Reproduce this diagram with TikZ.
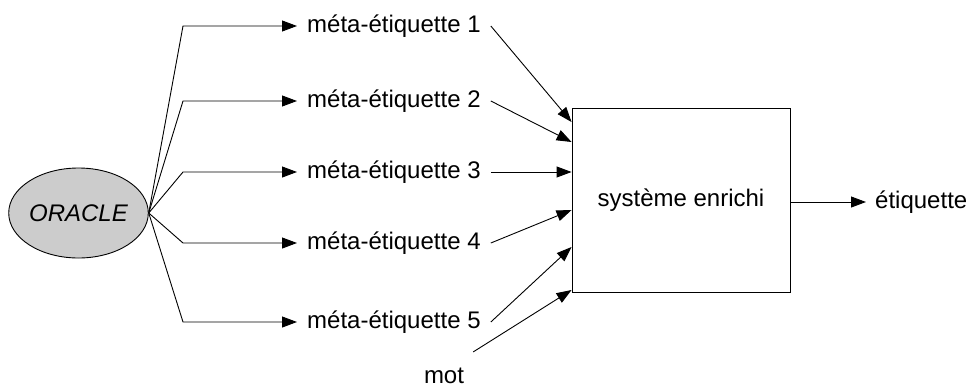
\documentclass[tikz,border=0pt]{standalone}
\usepackage{fontspec}
\setmainfont{Liberation Sans}
\usetikzlibrary{arrows.meta,calc,shapes.geometric}
\begin{document}
\begin{tikzpicture}[x=1pt,y=-1pt,
  every node/.style={font=\fontsize{24}{28}\selectfont},
  arr/.style={line width=0.9pt,-{Triangle[length=15pt,width=11pt]}},
  lab/.style={anchor=west,inner xsep=10pt,inner ysep=3pt},
  ora/.style={ellipse,draw,line width=0.9pt,fill=black!20,minimum width=135pt,minimum height=90pt,inner sep=0pt},
  sysbox/.style={draw,line width=0.9pt,minimum width=218pt,minimum height=184pt}]
\useasboundingbox (0,0) rectangle (966,391);
\node[ora] (orc) at (78.5,213) {\itshape ORACLE};
\coordinate (bx) at (183,0);
\node[lab] (m1) at (297,26) {méta-étiquette 1};
\node[lab] (m2) at (297,101) {méta-étiquette 2};
\node[lab] (m3) at (297,172) {méta-étiquette 3};
\node[lab] (m4) at (297,243) {méta-étiquette 4};
\node[lab] (m5) at (297,322) {méta-étiquette 5};
\node[sysbox] (box) at (681,200) {système enrichi};
\node[lab,inner xsep=9pt] (out) at (866,202) {étiquette};
\node[inner sep=6pt] (mot) at (444,376) {mot};
\foreach \i in {1,...,5}{
  \draw[arr] (orc.east) -- (bx |- m\i.west) -- (m\i.west);
}
\draw[arr] (m1.east) -- ([yshift=78pt]box.west);
\draw[arr] (m2.east) -- ([yshift=58pt]box.west);
\draw[arr] (m3.east) -- ([yshift=28pt]box.west);
\draw[arr] (m4.east) -- ([yshift=-10pt]box.west);
\draw[arr] (m5.east) -- ([yshift=-47pt]box.west);
\draw[arr] ([shift={(3,-10)}]mot.north east) -- ([yshift=-90pt]box.west);
\draw[arr] ([yshift=-2pt]box.east) -- (out.west);
\end{tikzpicture}
\end{document}
